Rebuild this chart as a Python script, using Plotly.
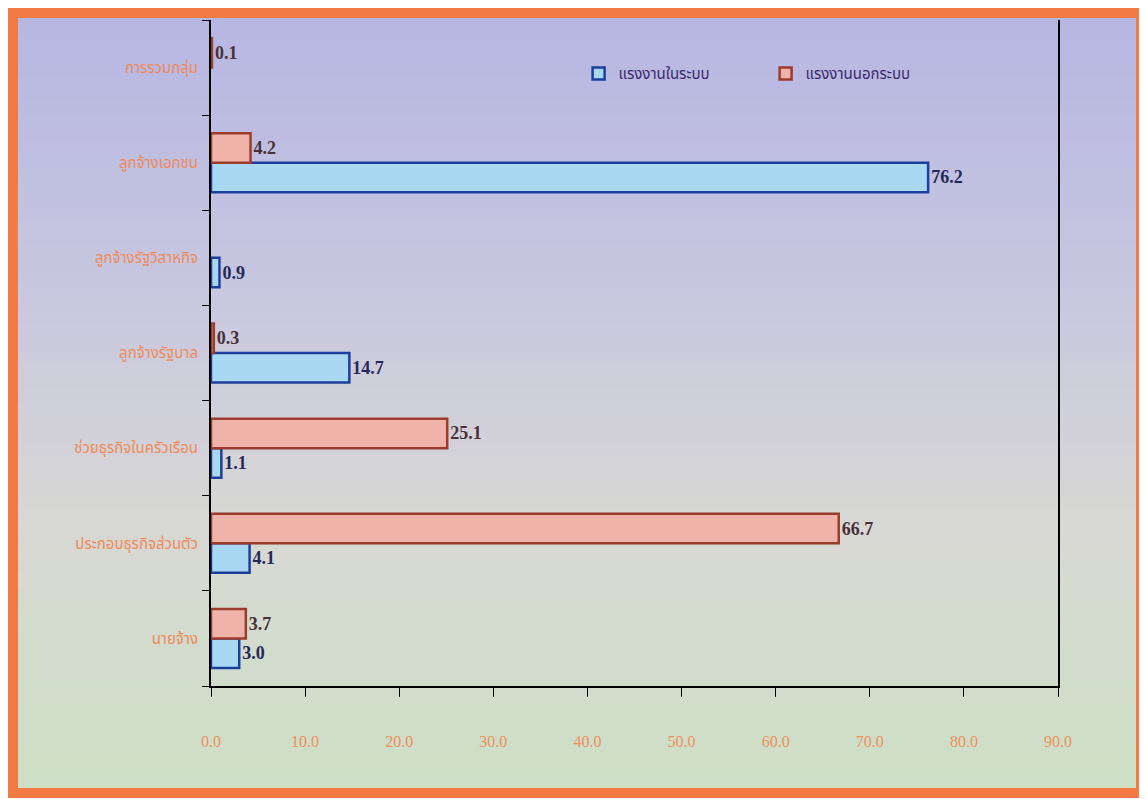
import plotly.graph_objects as go

# categories listed bottom -> top (plotly draws the first one at the bottom)
categories = ["นายจ้าง", "ประกอบธุรกิจส่วนตัว", "ช่วยธุรกิจในครัวเรือน",
              "ลูกจ้างรัฐบาล", "ลูกจ้างรัฐวิสาหกิจ", "ลูกจ้างเอกชน", "การรวมกลุ่ม"]
in_system = [3.0, 4.1, 1.1, 14.7, 0.9, 76.2, None]      # แรงงานในระบบ
out_system = [3.7, 66.7, 25.1, 0.3, None, 4.2, 0.1]     # แรงงานนอกระบบ
x_ticks = [0, 10, 20, 30, 40, 50, 60, 70, 80, 90]

# the page body adds an 8px margin, so the figure is drawn 8px smaller
W, H = 1139, 791
L, R, T, B = 203, 89, 12, 113
pw, ph = W - L - R, H - T - B


def px(x):
    return (x - L) / pw


def py(y):
    return (H - B - y) / ph


def lbl(v):
    return [None if a is None else f"{a:.1f}" for a in v]


fig = go.Figure()
fig.add_trace(go.Bar(
    y=categories, x=in_system, orientation="h", name="แรงงานในระบบ",
    marker=dict(color="#a9d9f2", line=dict(color="#1d3f9c", width=2.5)),
    text=lbl(in_system), textposition="outside", cliponaxis=False,
    textfont=dict(family="Liberation Serif", size=18, color="#25295a", weight="bold"),
))
fig.add_trace(go.Bar(
    y=categories, x=out_system, orientation="h", name="แรงงานนอกระบบ",
    marker=dict(color="#efb3aa", line=dict(color="#9a3d2c", width=2.5)),
    text=lbl(out_system), textposition="outside", cliponaxis=False,
    textfont=dict(family="Liberation Serif", size=18, color="#4a3038", weight="bold"),
))

# background gradient (lavender top -> pale green bottom)
stops = [(0, (182, 182, 226)), (0.35, (200, 199, 224)), (0.65, (216, 216, 212)), (1, (204, 224, 196))]


def col(t):
    for (t0, c0), (t1, c1) in zip(stops, stops[1:]):
        if t <= t1:
            f = (t - t0) / (t1 - t0)
            return "rgb(%d,%d,%d)" % tuple(round(a + (b - a) * f) for a, b in zip(c0, c1))
    return "rgb(%d,%d,%d)" % stops[-1][1]


shapes = []
n = 60
top, bot = 2, 788
for i in range(n):
    y0 = top + (bot - top) * i / n
    y1 = top + (bot - top) * (i + 1) / n + 1
    shapes.append(dict(type="rect", xref="paper", yref="paper", layer="below",
                       x0=px(3), x1=px(1136), y0=py(y1), y1=py(y0),
                       fillcolor=col(i / n), line=dict(width=0)))
# orange frame
shapes.append(dict(type="rect", xref="paper", yref="paper", layer="above",
                   x0=px(5), x1=px(1133), y0=py(785), y1=py(5),
                   line=dict(color="#f27a45", width=10)))

fig.update_layout(
    width=W, height=H,
    margin=dict(l=L, r=R, t=T, b=B),
    paper_bgcolor="white", plot_bgcolor="rgba(0,0,0,0)",
    barmode="group", bargap=0.38, bargroupgap=0,
    shapes=shapes,
    showlegend=True,
    legend=dict(orientation="h", x=0.434, y=0.944, xanchor="left", yanchor="top",
                bgcolor="rgba(0,0,0,0)", traceorder="normal",
                font=dict(family="Noto Sans Thai, Noto Sans, sans-serif", size=15, color="#3a2a6a"),
                itemwidth=30, entrywidth=142),
    xaxis=dict(range=[0, 90], tickvals=x_ticks, ticktext=[f"{v:.1f}" for v in x_ticks],
               showgrid=False, zeroline=False, showline=True, linecolor="black", linewidth=2,
               ticks="outside", ticklen=9, tickcolor="black", ticklabelstandoff=31,
               automargin=False,
               tickfont=dict(family="Liberation Serif", size=16, color="#f0905a")),
    yaxis=dict(showgrid=False, zeroline=False, showline=True, linecolor="black", linewidth=2,
               mirror=True, ticks="outside", tickson="boundaries", ticklen=7,
               tickcolor="black", ticklabelstandoff=8, automargin=False,
               tickfont=dict(family="Noto Sans Thai, Noto Sans, sans-serif", size=15, color="#f08a5a")),
)

fig.write_html("out.html")
